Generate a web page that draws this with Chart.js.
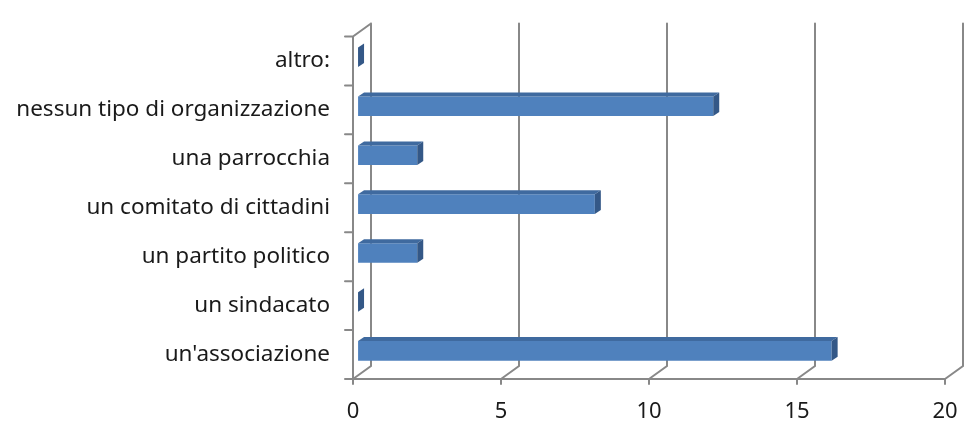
<!DOCTYPE html>
<html>
<head>
<meta charset="utf-8">
<script src="https://cdn.jsdelivr.net/npm/chart.js@4.4.0/dist/chart.umd.min.js"></script>
<style>
  html, body { margin: 0; padding: 0; background: #fff; }
  #wrap { width: 965px; height: 427px; }
</style>
</head>
<body>
<div id="wrap"><canvas id="barChart" width="965" height="427"></canvas></div>
<script>
const categories = [
    'altro:',
    'nessun tipo di organizzazione',
    'una parrocchia',
    'un comitato di cittadini',
    'un partito politico',
    'un sindacato',
    "un'associazione"
];
const counts = [0, 12, 2, 8, 2, 0, 16];
const xTicks = [0, 5, 10, 15, 20];

// 3D look: depth of the box and where the bars sit inside it
const depth = { x: 18, y: -13 };
const barShift = 0.28;
const barDepth = { x: 6, y: -4 };
const gridColor = '#888888';

const box3d = {
    id: 'box3d',
    beforeDatasetsDraw(chart) {
        const { ctx, chartArea: a, scales: { x } } = chart;
        ctx.save();
        ctx.strokeStyle = gridColor;
        ctx.lineWidth = 2;
        ctx.lineCap = 'round';
        ctx.beginPath();
        // vertical grid lines on back wall + floor diagonals
        xTicks.forEach(v => {
            const px = x.getPixelForValue(v);
            ctx.moveTo(px, a.bottom);
            ctx.lineTo(px + depth.x, a.bottom + depth.y);
            ctx.lineTo(px + depth.x, a.top + depth.y);
            // small tick below front axis
            ctx.moveTo(px, a.bottom);
            ctx.lineTo(px, a.bottom + 5);
        });
        // left wall
        ctx.moveTo(a.left, a.bottom);
        ctx.lineTo(a.left, a.top);
        ctx.lineTo(a.left + depth.x, a.top + depth.y);
        // front floor edge
        ctx.moveTo(a.left, a.bottom);
        ctx.lineTo(a.right, a.bottom);
        // left wall ticks at category boundaries
        const band = (a.bottom - a.top) / categories.length;
        for (let i = 0; i <= categories.length; i++) {
            const py = a.top + i * band;
            ctx.moveTo(a.left - 8, py);
            ctx.lineTo(a.left, py);
        }
        ctx.stroke();
        ctx.restore();

        // bars sit a little inside the box
        ctx.save();
        ctx.translate(depth.x * barShift, depth.y * barShift);
    },
    afterDatasetsDraw(chart) {
        const { ctx } = chart;
        const meta = chart.getDatasetMeta(0);
        meta.data.forEach(bar => {
            const { x: right, y: cy, base: left, height: h } = bar.getProps(['x', 'y', 'base', 'height'], true);
            const top = cy - h / 2;
            const bottom = cy + h / 2;
            // top face
            ctx.fillStyle = '#3f6a9f';
            ctx.beginPath();
            ctx.moveTo(left, top);
            ctx.lineTo(left + barDepth.x, top + barDepth.y);
            ctx.lineTo(right + barDepth.x, top + barDepth.y);
            ctx.lineTo(right, top);
            ctx.closePath();
            ctx.fill();
            // side face
            ctx.fillStyle = '#345887';
            ctx.beginPath();
            ctx.moveTo(right, top);
            ctx.lineTo(right + barDepth.x, top + barDepth.y);
            ctx.lineTo(right + barDepth.x, bottom + barDepth.y);
            ctx.lineTo(right, bottom);
            ctx.closePath();
            ctx.fill();
        });
        ctx.restore();
    }
};

const ctx = document.getElementById('barChart').getContext('2d');
const barChart = new Chart(ctx, {
    type: 'bar',
    data: {
        labels: categories,
        datasets: [{
            data: counts,
            backgroundColor: '#4f81bd',
            borderWidth: 0,
            barPercentage: 0.4,
            categoryPercentage: 1
        }]
    },
    options: {
        indexAxis: 'y',
        responsive: false,
        animation: false,
        layout: { padding: { top: 27, right: 20, left: 0, bottom: 0 } },
        plugins: { legend: { display: false }, tooltip: { enabled: false } },
        scales: {
            x: {
                min: 0,
                max: 20,
                ticks: {
                    stepSize: 5,
                    padding: 20,
                    color: '#1a1a1a',
                    font: { family: 'Noto Sans', size: 22 }
                },
                grid: { display: false, drawTicks: false },
                border: { display: false },
                afterFit(scale) {
                    scale.height = 48;
                    scale.paddingLeft = 0;
                    scale.paddingRight = 0;
                }
            },
            y: {
                ticks: {
                    padding: 23,
                    color: '#1a1a1a',
                    font: { family: 'Noto Sans', size: 22.5 }
                },
                grid: { display: false, drawTicks: false },
                border: { display: false },
                afterFit(scale) { scale.width = 353; }
            }
        }
    },
    plugins: [box3d]
});
</script>
</body>
</html>
